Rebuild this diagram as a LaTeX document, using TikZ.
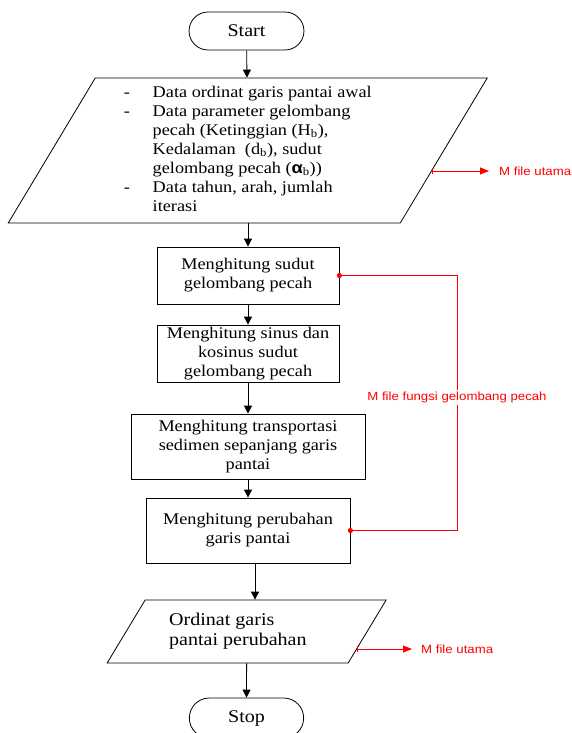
\documentclass[tikz,border=0pt]{standalone}
\usepackage{fontspec}
\setmainfont{Liberation Serif}[FakeStretch=1.12]
\setsansfont{Liberation Sans}[FakeStretch=1.12]
\usetikzlibrary{shapes.geometric}
\usetikzlibrary{shapes.misc}
\usetikzlibrary{arrows.meta}

\begin{document}
\begin{tikzpicture}[x=1pt, y=-1pt,
terminal/.style = {draw, rounded rectangle, line width=0.8pt, font=\fontsize{17.9}{20}\selectfont},
process/.style = {draw, rectangle, align=center, line width=0.8pt, inner sep=0pt, font=\fontsize{16.3}{19}\selectfont},
io/.style = {draw, trapezium, trapezium stretches body, line width=0.8pt, inner sep=0pt},
flow/.style = {-{Triangle[width=8pt,length=8pt]}, line width=0.8pt},
mfile/.style = {red, line width=0.8pt},
mlabel/.style = {text=red, font=\sffamily\fontsize{11.8}{14}\selectfont, inner sep=0pt}]

\useasboundingbox (0,0) rectangle (571,733);

\node[terminal, minimum width=121.6, minimum height=38] (start) at (246.5,31) {Start};
\node[io, trapezium left angle=59.04, trapezium right angle=120.96, minimum width=479, font=\fontsize{16.3}{19}\selectfont] (data) at (247.75,150.5) {\parbox[c][145pt]{248pt}{\begin{tabular}{@{}l@{\hspace{22.9pt}}l@{}}
- & Data ordinat garis pantai awal\\
- & Data parameter gelombang\\
  & pecah (Ketinggian (H\textsubscript{b}),\\
  & Kedalaman~ (d\textsubscript{b}), sudut\\
  & gelombang pecah ({\sffamily\bfseries α}\textsubscript{b}))\\
- & Data tahun, arah, jumlah\\
  & iterasi
\end{tabular}}};
\node[process, minimum width=182, minimum height=57] (sudut) at (248,275.5) {Menghitung sudut\\gelombang pecah};
\node[process, minimum width=182, minimum height=57] (sinus) at (248,353.5) {Menghitung sinus dan\\kosinus sudut\\gelombang pecah};
\node[process, minimum width=234, minimum height=65] (transport) at (248,446.5) {Menghitung transportasi\\sedimen sepanjang garis\\pantai};
\node[process, minimum width=204, minimum height=65] (ubah) at (248,530.5) {Menghitung perubahan\\garis pantai};
\node[io, trapezium left angle=58.9, trapezium right angle=121.1, minimum width=279, font=\fontsize{17.9}{20}\selectfont] (hasil) at (246.65,631.5) {\parbox[c][63pt]{155pt}{Ordinat garis\\pantai perubahan}};
\node[terminal, minimum width=121, minimum height=40] (stop) at (246.5,718) {Stop};

\node[mlabel, anchor=west] (utama1) at (499,171) {M file utama};
\node[mlabel, anchor=west] (utama2) at (421,649) {M file utama};
\coordinate (tap1) at (432,171);
\coordinate (tap2) at (357,649);
\coordinate (bus) at (457,0);

\draw[flow] (start) -- (data);
\draw[flow] (data.south -| sudut.north) -- (sudut.north);
\draw[flow] (sudut) -- (sinus);
\draw[flow] (sinus) -- (transport);
\draw[flow] (transport) -- (ubah);
\draw[flow] ([xshift=7pt]ubah.south) -- ([xshift=7pt]ubah.south |- hasil.north);
\draw[flow] (hasil) -- (stop);

\draw[mfile, {Bar[width=6pt]}-{Triangle[width=7pt,length=9pt]}, shorten >=10pt] (tap1) -- (utama1.west);
\draw[mfile, {Bar[width=6pt]}-{Triangle[width=7pt,length=9pt]}, shorten >=9pt] (tap2) -- (utama2.west);
\draw[mfile] (sudut.east) -- (sudut.east -| bus) -- node[mlabel, fill=white, inner ysep=2pt, pos=0.48] (fungsi) {M file fungsi gelombang pecah} (ubah.east -| bus) -- (ubah.east);
\fill[red] (sudut.east) circle (2.6pt);
\fill[red] (ubah.east) circle (2.6pt);

\end{tikzpicture}
\end{document}
